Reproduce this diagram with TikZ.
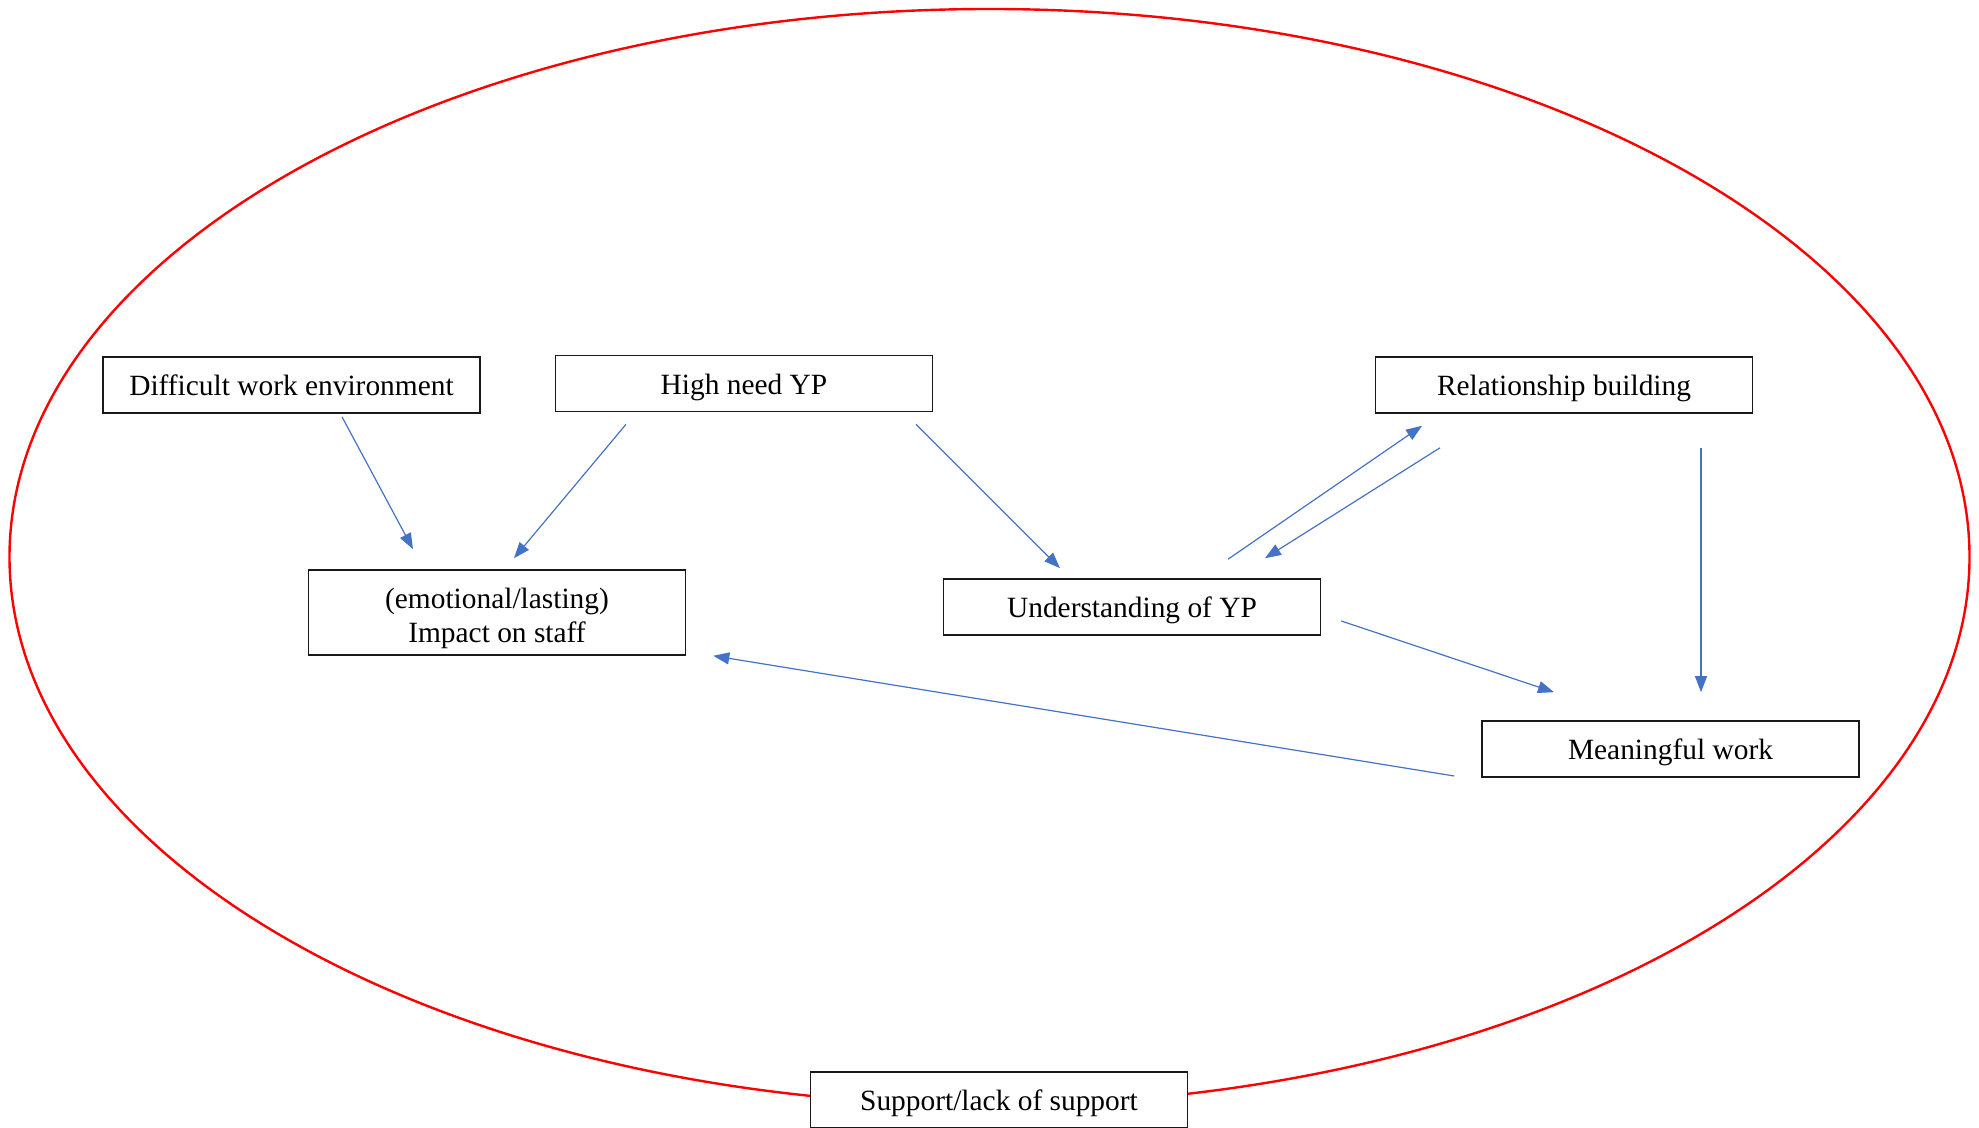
\documentclass[tikz,border=0pt]{standalone}
\usepackage{fontspec}
\setmainfont{Liberation Serif}
\usetikzlibrary{calc,arrows.meta}
\definecolor{link}{HTML}{4472C4}
\definecolor{ring}{HTML}{FF0000}
\tikzset{
  box/.style={draw=black!90,line width=0.8pt,fill=white,minimum width=188.5pt,
    minimum height=28pt,inner sep=0pt,align=center,text height=14pt,text depth=3.2pt,
    font=\fontsize{14.7}{17}\selectfont},
  arr/.style={-{Triangle[length=8pt,width=6pt]},link,line width=0.6pt},
}

\begin{document}
\begin{tikzpicture}[x=0.5pt,y=-0.5pt]
  \useasboundingbox (0,0) rectangle (1979,1128);
  % outer ring: support around everything
  \draw[ring,line width=1.2pt] (989.5,557) ellipse [x radius=490pt, y radius=274pt];
  \node[box] (diff)   at (291.5,385)  {Difficult work environment};
  \node[box] (high)   at (744,383.5)  {High need YP};
  \node[box] (rel)    at (1564,385)   {Relationship building};
  \node[box,minimum height=42.5pt,text height=33pt] (impact) at (497,612.5) {(emotional/lasting)\\Impact on staff};
  \node[box] (under)  at (1132,607)   {Understanding of YP};
  \node[box] (mean)   at (1670.5,749) {Meaningful work};
  \node[box] (supp)   at (999,1100)   {Support/lack of support};
  % links
  \draw[arr] ($(diff.south)+(50.5,3)$) -- ($(impact.north)+(-84,-20)$);
  \draw[arr] ($(high.south)+(-118,12)$) -- ($(impact.north)+(17,-11)$);
  \draw[arr] ($(high.south)+(172,12)$) -- ($(under.north)+(-72,-10)$);
  \draw[arr] ($(under.north)+(96,-19)$) -- ($(rel.south)+(-142,12)$);
  \draw[arr] ($(rel.south)+(-124,34)$) -- ($(under.north)+(133,-20)$);
  \draw[arr] ($(rel.south)+(137,34)$) -- ($(mean.north)+(30.5,-28)$);
  \draw[arr] ($(under.east)+(20,14)$) -- ($(mean.north)+(-116.5,-28)$);
  \draw[arr] ($(mean.west)+(-27,27)$) -- ($(impact.south east)+(27,0)$);
\end{tikzpicture}
\end{document}
